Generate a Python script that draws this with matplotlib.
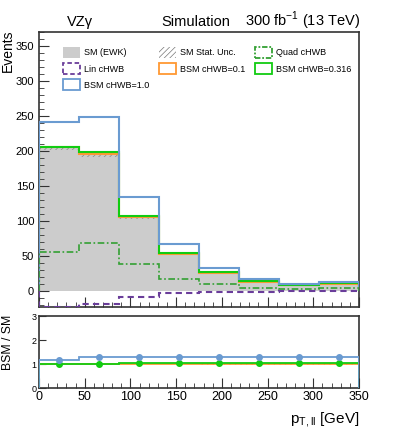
import matplotlib
matplotlib.use("Agg")
import matplotlib.pyplot as plt
from matplotlib.patches import Patch
import numpy as np

# bin edges in p_T,ll [GeV]
edges = [0, 43.75, 87.5, 131.25, 175, 218.75, 262.5, 306.25, 350]

# event yields per bin
sm = [204, 194, 104, 52, 26, 13, 7.8, 10]
sm_err = [2, 2, 1.4, 1, 0.7, 0.5, 0.4, 0.4]
bsm_01 = [205, 195.5, 105, 52.5, 26.3, 13.2, 7.9, 10.2]
bsm_0316 = [206, 198, 106.5, 53.5, 27, 13.5, 8.2, 10.6]
bsm_1 = [241, 248, 134, 66.5, 33.3, 16.7, 10, 12.8]
quad = [55, 69, 38, 17, 9.5, 4.8, 3.3, 3.5]
lin = [-22.4, -18.6, -9, -3.3, -1.9, -1.4, -0.5, 0.3]

plt.rcParams['font.family'] = ['Liberation Sans', 'DejaVu Sans']
plt.rcParams['mathtext.fontset'] = 'custom'
plt.rcParams['mathtext.rm'] = 'Liberation Sans'
plt.rcParams['hatch.linewidth'] = 0.5

c_grey = '#cccccc'
c_blue = '#6a9bd1'
c_orange = '#ff9933'
c_green = '#11cc11'
c_quad = '#33a033'
c_lin = '#6a3d9a'
c_spine = '#333333'

W, H = 399, 442
fig = plt.figure(figsize=(W / 100, H / 100), dpi=100)
ax = fig.add_axes([39 / W, 1 - 307 / H, 320 / W, 275 / H])
rax = fig.add_axes([39 / W, 1 - 388 / H, 320 / W, 72 / H])

edges = np.array(edges)
sm = np.array(sm)
sm_err = np.array(sm_err)
centers = 0.5 * (edges[:-1] + edges[1:])

# main panel
ax.stairs(sm, edges, baseline=0, fill=True, color=c_grey, lw=0, zorder=1)
ax.stairs(sm + sm_err, edges, baseline=sm - sm_err, fill=True, facecolor='none',
          edgecolor='#888888', hatch='//////', lw=0, zorder=2)
ax.stairs(bsm_01, edges, baseline=0, color=c_orange, lw=1.5, zorder=3)
ax.stairs(bsm_0316, edges, baseline=0, color=c_green, lw=1.5, zorder=4)
ax.stairs(bsm_1, edges, baseline=0, color=c_blue, lw=1.5, zorder=5)
ax.stairs(quad, edges, baseline=0, color=c_quad, lw=1.2, ls=(0, (4, 1.5, 1, 1.5)), zorder=6)
ax.stairs(lin, edges, baseline=0, color=c_lin, lw=1.5, ls=(0, (3, 2)), zorder=7)

ax.set_xlim(0, 350)
ax.set_ylim(-23, 370)
ax.set_xticks(np.arange(0, 351, 50))
ax.set_xticks(np.arange(0, 351, 10), minor=True)
ax.set_yticks(np.arange(0, 351, 50))
ax.set_yticks(np.arange(-20, 371, 10), minor=True)
ax.tick_params(axis='both', which='both', direction='in', color=c_spine, labelsize=8)
ax.tick_params(axis='both', which='major', length=7)
ax.tick_params(axis='both', which='minor', length=3.5)
ax.tick_params(axis='x', labelbottom=False)
for s in ax.spines.values():
    s.set_color(c_spine)
    s.set_linewidth(1.2)

handles = [
    Patch(facecolor=c_grey, edgecolor='none'),
    Patch(facecolor='none', edgecolor=c_lin, ls=(0, (2.5, 1.5)), lw=1.3),
    Patch(facecolor='none', edgecolor=c_blue, lw=1.3),
    Patch(facecolor='none', edgecolor='#777777', hatch='//////', lw=0),
    Patch(facecolor='none', edgecolor=c_orange, lw=1.3),
    Patch(facecolor='none', edgecolor=c_quad, ls=(0, (3, 1, 1, 1)), lw=1.3),
    Patch(facecolor='none', edgecolor=c_green, lw=1.3),
]
labels = ['SM (EWK)', 'Lin cHWB', 'BSM cHWB=1.0', 'SM Stat. Unc.',
          'BSM cHWB=0.1', 'Quad cHWB', 'BSM cHWB=0.316']
ax.legend(handles, labels, ncol=3, loc='upper left', bbox_to_anchor=(0.075, 0.945),
          frameon=False, fontsize=6.5, borderpad=0, borderaxespad=0,
          handlelength=1.9, handleheight=1.45, handletextpad=0.4,
          labelspacing=0.6, columnspacing=1.1)

# ratio panel
r_01 = np.array(bsm_01) / sm
r_0316 = np.array(bsm_0316) / sm
r_1 = np.array(bsm_1) / sm
rax.stairs(1 + sm_err / sm, edges, baseline=1 - sm_err / sm, fill=True, facecolor='none',
           edgecolor='#888888', hatch='//////', lw=0, zorder=1)
rax.stairs(r_01 - 0.02, edges, baseline=0, color=c_orange, lw=1.3, zorder=2)
rax.stairs(r_0316, edges, baseline=0, color=c_green, lw=1.3, zorder=3)
rax.stairs(r_1, edges, baseline=0, color=c_blue, lw=1.3, zorder=4)
rax.plot(centers, r_0316, 'o', color=c_green, ms=4, zorder=5)
rax.plot(centers, r_1, 'o', color=c_blue, ms=4, zorder=5)

rax.set_xlim(0, 350)
rax.set_ylim(0, 3)
rax.set_xticks(np.arange(0, 351, 50))
rax.set_xticks(np.arange(0, 351, 10), minor=True)
rax.set_yticks([0, 1, 2, 3])
rax.tick_params(axis='both', which='both', direction='in', color=c_spine)
rax.tick_params(axis='x', which='major', length=7, labelsize=9, pad=2)
rax.tick_params(axis='x', which='minor', length=3.5)
rax.tick_params(axis='y', which='major', length=5, labelsize=6.5, pad=2)
for s in rax.spines.values():
    s.set_color(c_spine)
    s.set_linewidth(1.2)

fig.text(8 / W, 1 - 30 / H, 'Events', rotation=90, fontsize=10, ha='center', va='top')
fig.text(8 / W, 1 - 342 / H, 'BSM / SM', rotation=90, fontsize=8.8, ha='center', va='center')
fig.text(359 / W, 1 - 423 / H, r'$\mathregular{p_{T,ll}}$ [GeV]', fontsize=11,
         ha='right', va='baseline')

# header
fig.text(67 / W, 1 - 26 / H, 'VZγ', fontsize=10.5, va='baseline')
fig.text(196 / W, 1 - 26 / H, 'Simulation', fontsize=10.5, ha='center', va='baseline')
fig.text(360 / W, 1 - 26 / H, r'300 fb$^{\mathregular{-1}}$ (13 TeV)', fontsize=10.5,
         ha='right', va='baseline')

fig.savefig('out.png', dpi=100)
